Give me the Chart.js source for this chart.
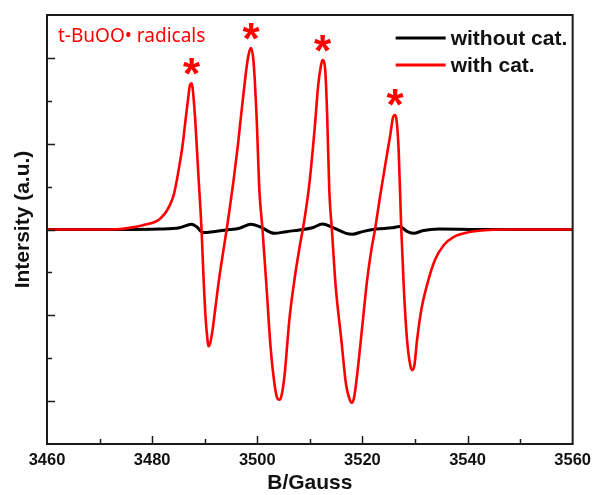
<!DOCTYPE html>
<html><head><meta charset="utf-8">
<script src="https://cdn.jsdelivr.net/npm/chart.js@4.4.1/dist/chart.umd.min.js"></script>
<style>html,body{margin:0;padding:0;background:#fff;}canvas{display:block;}</style>
</head><body>
<canvas id="c" width="598" height="495"></canvas>
<script>
// ---- data ----
const fieldWith = [3460, 3470, 3473.9, 3476.7, 3478.2, 3479.6, 3480.6, 3481.4, 3482.0, 3482.7, 3483.3, 3484.1, 3484.7, 3485.2, 3485.8, 3486.4, 3486.9, 3487.2, 3487.5, 3487.7, 3488.2, 3488.8, 3489.4, 3489.8, 3490.2, 3490.5, 3490.7, 3491.0, 3491.5, 3492.1, 3492.8, 3493.8, 3494.6, 3495.5, 3496.3, 3497.0, 3497.6, 3498.1, 3498.5, 3498.8, 3499.3, 3499.9, 3500.4, 3501.0, 3501.8, 3502.5, 3503.3, 3503.8, 3504.2, 3504.6, 3505.2, 3506.1, 3507.1, 3508.0, 3509.0, 3509.9, 3510.9, 3511.6, 3512.1, 3512.4, 3512.9, 3513.3, 3513.7, 3514.2, 3514.9, 3516.0, 3516.9, 3517.6, 3518.0, 3518.4, 3519.0, 3520.0, 3520.9, 3521.7, 3522.4, 3523.4, 3524.5, 3525.3, 3525.8, 3526.2, 3526.5, 3526.9, 3527.4, 3527.9, 3528.5, 3529.1, 3529.5, 3529.9, 3530.4, 3531.2, 3532.3, 3533.8, 3535.5, 3537.4, 3540.3, 3544.1, 3547.9, 3560];
const intensityWith = [0, 0, 0.01, 0.06, 0.10, 0.14, 0.18, 0.24, 0.31, 0.42, 0.55, 0.80, 1.15, 1.50, 1.97, 2.60, 3.11, 3.37, 3.41, 3.30, 2.55, 1.27, 0, -1.18, -2.11, -2.53, -2.72, -2.67, -2.34, -1.76, -1.10, -0.30, 0.35, 1.15, 1.95, 2.75, 3.40, 3.90, 4.15, 4.23, 3.90, 2.55, 0.92, 0, -1.41, -2.69, -3.62, -3.93, -3.97, -3.88, -3.39, -2.11, -1.15, -0.45, 0.25, 1.05, 2.32, 3.37, 3.81, 3.95, 3.76, 2.67, 0.92, 0, -1.29, -2.58, -3.62, -3.97, -4.04, -3.93, -3.39, -2.23, -1.18, -0.48, 0, 0.80, 1.62, 2.20, 2.60, 2.67, 2.55, 1.85, 0, -1.41, -2.58, -3.16, -3.28, -3.16, -2.58, -1.88, -1.29, -0.71, -0.36, -0.17, -0.06, -0.01, 0, 0];
const fieldWithout = [3460, 3473.9, 3481.4, 3485.2, 3487.5, 3488.4, 3489.7, 3491.6, 3494.1, 3496.6, 3498.8, 3500.4, 3503.3, 3505.5, 3508.0, 3510.5, 3512.4, 3514.3, 3516.9, 3518.1, 3520.0, 3522.6, 3525.7, 3527.0, 3528.6, 3529.8, 3531.4, 3534.6, 3542.2, 3560];
const intensityWithout = [0, 0, 0.01, 0.04, 0.12, 0.07, -0.07, -0.05, -0.01, 0.03, 0.12, 0.07, -0.09, -0.05, -0.01, 0.04, 0.13, 0.05, -0.09, -0.11, -0.05, 0.01, 0.04, 0.07, -0.05, -0.09, -0.03, 0.01, 0, 0];
const xTickValues = [3460, 3480, 3500, 3520, 3540, 3560];
const seriesLabels = ['without cat.', 'with cat.'];
const seriesColors = ['#000000', '#ff0000'];
const radicalLabel = 't-BuOO\u2022 radicals';
const xTitle = 'B/Gauss';
const yTitle = 'Intersity (a.u.)';

const FONT = '"Liberation Sans", Arial, Helvetica, sans-serif';

const decor = {
  id: 'decor',
  afterDatasetsDraw(chart) {
    const {ctx, chartArea: a, scales: {x, y}} = chart;
    ctx.save();
    // inner ticks
    ctx.strokeStyle = '#1a1a1a';
    ctx.lineWidth = 1.5;
    for (let v = x.min + 10; v < x.max; v += 10) {
      const px = Math.round(x.getPixelForValue(v)) + 0.5;
      const len = ((v - x.min) % 20 === 0) ? 8 : 5;
      ctx.beginPath(); ctx.moveTo(px, a.bottom); ctx.lineTo(px, a.bottom - len); ctx.stroke();
    }
    for (let v = y.min + 1; v < y.max; v += 1) {
      const py = Math.round(y.getPixelForValue(v)) + 0.5;
      const len = (Math.abs(v) % 2 === 0) ? 8 : 5;
      ctx.beginPath(); ctx.moveTo(a.left, py); ctx.lineTo(a.left + len, py); ctx.stroke();
    }
    // frame
    ctx.lineWidth = 2;
    ctx.strokeRect(a.left, a.top, a.right - a.left, a.bottom - a.top);

    // y-axis title
    ctx.save();
    ctx.translate(23, (a.top + a.bottom) / 2 - 10);
    ctx.rotate(-Math.PI / 2);
    ctx.font = 'bold 21px ' + FONT;
    ctx.fillStyle = '#111';
    ctx.textAlign = 'center';
    ctx.textBaseline = 'middle';
    ctx.fillText(yTitle, 0, 0);
    ctx.restore();

    // legend (inside, top right)
    ctx.font = 'bold 21px ' + FONT;
    ctx.textBaseline = 'middle';
    ctx.textAlign = 'left';
    chart.data.datasets.forEach((ds, i) => {
      const ly = a.top + 23 + i * 27;
      ctx.strokeStyle = ds.borderColor;
      ctx.lineWidth = 3;
      ctx.beginPath(); ctx.moveTo(a.right - 177, ly); ctx.lineTo(a.right - 127, ly); ctx.stroke();
      ctx.fillStyle = '#111';
      ctx.fillText(ds.label, a.right - 122, ly + 1);
    });

    // radical label
    ctx.fillStyle = '#ff0000';
    ctx.font = '19px "Noto Sans", "Open Sans", sans-serif';
    ctx.textBaseline = 'alphabetic';
    ctx.fillText(radicalLabel, a.left + 11, a.top + 27);

    // stars above the four peaks of the "with cat." trace
    const ds = chart.data.datasets[1].data;
    ctx.font = 'bold 44px ' + FONT;
    const m = ctx.measureText('*');
    const glyphMid = (m.actualBoundingBoxAscent - m.actualBoundingBoxDescent) / 2;
    ctx.textAlign = 'center';
    for (let i = 1; i < ds.length - 1; i++) {
      if (ds[i].y > 2 && ds[i].y >= ds[i - 1].y && ds[i].y >= ds[i + 1].y) {
        const px = x.getPixelForValue(ds[i].x);
        const py = y.getPixelForValue(ds[i].y) - 17;
        ctx.fillText('*', px, py + glyphMid);
      }
    }
    ctx.restore();
  }
};

new Chart(document.getElementById('c'), {
  type: 'scatter',
  data: {
    datasets: [
      {label: seriesLabels[0], data: fieldWithout.map((f, i) => ({x: f, y: intensityWithout[i]})),
       showLine: true, borderColor: seriesColors[0], borderWidth: 3, pointRadius: 0,
       cubicInterpolationMode: 'monotone', order: 2},
      {label: seriesLabels[1], data: fieldWith.map((f, i) => ({x: f, y: intensityWith[i]})),
       showLine: true, borderColor: seriesColors[1], borderWidth: 2.6, pointRadius: 0,
       cubicInterpolationMode: 'monotone', order: 1}
    ]
  },
  options: {
    responsive: false, animation: false, devicePixelRatio: 1,
    layout: {padding: {left: 0, right: 24, top: 15, bottom: 0}},
    plugins: {legend: {display: false}, tooltip: {enabled: false}},
    scales: {
      x: {
        type: 'linear', min: 3460, max: 3560,
        grid: {display: false, drawTicks: false}, border: {display: false},
        afterBuildTicks: s => { s.ticks = xTickValues.map(v => ({value: v})); },
        ticks: {autoSkip: false, maxRotation: 0, padding: 7, color: '#111',
                font: {family: FONT, size: 16.5, weight: 'bold'}, callback: v => String(v)},
        title: {display: true, text: xTitle, color: '#111',
                font: {family: FONT, size: 21, weight: 'bold'}, padding: {top: 0, bottom: -1}},
        afterFit: s => { s.height = 51; }
      },
      y: {
        type: 'linear', min: -5, max: 5,
        grid: {display: false, drawTicks: false}, border: {display: false},
        ticks: {display: false},
        title: {display: false, text: yTitle},
        afterFit: s => { s.width = 47; }
      }
    }
  },
  plugins: [decor]
});
</script>
</body></html>
